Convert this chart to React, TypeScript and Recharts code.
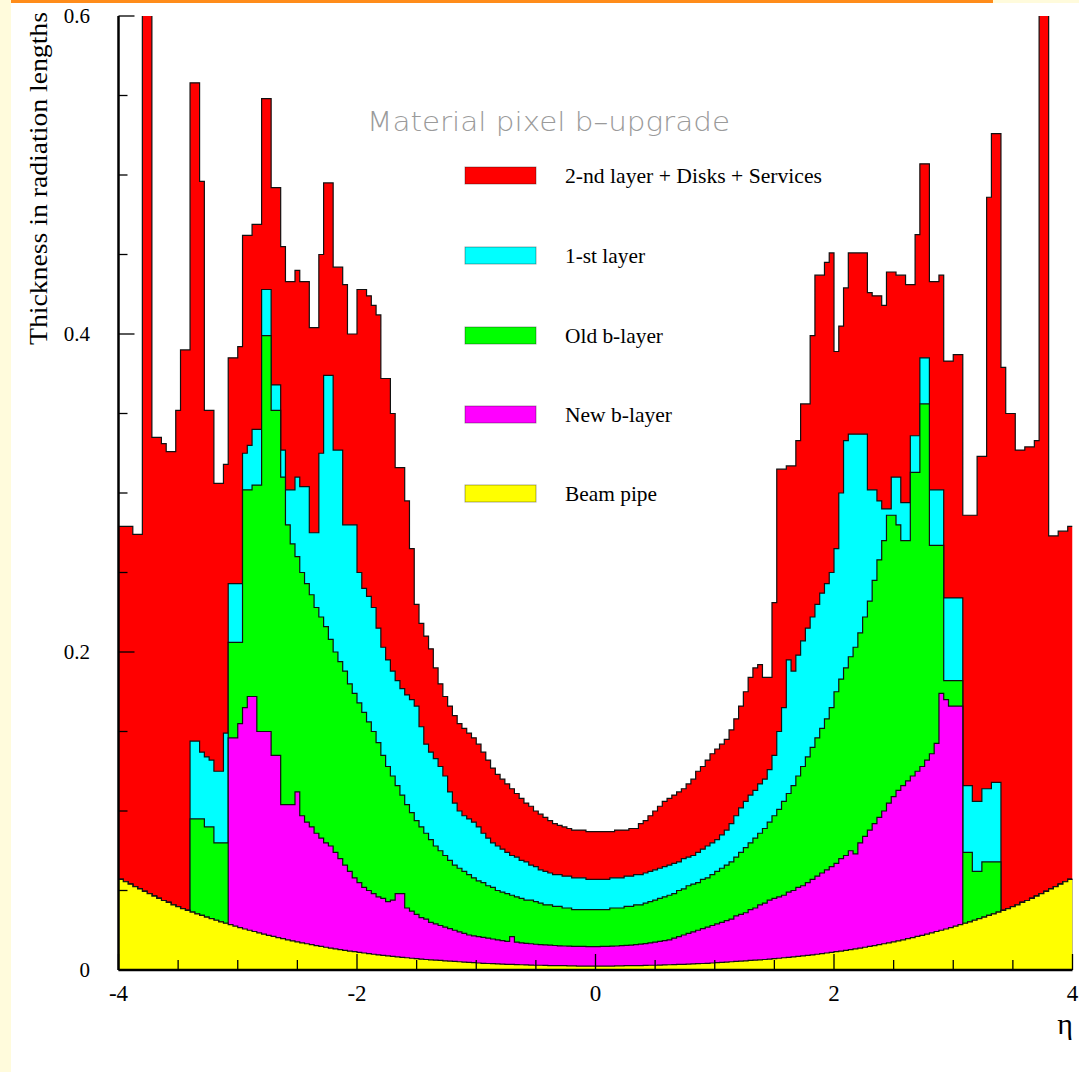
import React from 'react';
import { ComposedChart, Area, XAxis, YAxis, Legend } from 'recharts';

// ---- histogram binning (200 bins of 0.04 in eta) ----
const ETA_MIN = -4;
const ETA_MAX = 4;
const BIN_WIDTH = 0.04;

// ---- axis ticks ----
const xTicks = [-4, -3.5, -3, -2.5, -2, -1.5, -1, -0.5, 0, 0.5, 1, 1.5, 2, 2.5, 3, 3.5, 4];
const xTickLabels: Record<string, string> = { '-4': '-4', '-2': '-2', '0': '0', '2': '2', '4': '4' };
const yTicks = [0, 0.05, 0.1, 0.15, 0.2, 0.25, 0.3, 0.35, 0.4, 0.45, 0.5, 0.55, 0.6];
const yTickLabels: Record<string, string> = { '0': '0', '0.2': '0.2', '0.4': '0.4', '0.6': '0.6' };

// ---- series (cumulative thickness, X0; null = layer absent in that bin) ----
const beamPipe = [
  0.057, 0.0555, 0.054, 0.0525, 0.051, 0.0495, 0.048, 0.0465, 0.045, 0.0437,
  0.0425, 0.041, 0.0398, 0.0386, 0.0375, 0.0364, 0.0353, 0.0343, 0.0333, 0.0323,
  0.0313, 0.0303, 0.0294, 0.0285, 0.0276, 0.0267, 0.0258, 0.025, 0.0242, 0.0234,
  0.0226, 0.0218, 0.0211, 0.0204, 0.0197, 0.019, 0.0183, 0.0177, 0.0171, 0.0165,
  0.0159, 0.0153, 0.0148, 0.0143, 0.0138, 0.0133, 0.0128, 0.0123, 0.0119, 0.0115,
  0.0111, 0.0107, 0.0103, 0.0099, 0.0095, 0.0092, 0.0089, 0.0086, 0.0083, 0.008,
  0.0077, 0.0074, 0.0071, 0.0068, 0.0066, 0.0064, 0.0062, 0.006, 0.0058, 0.0056,
  0.0054, 0.0052, 0.005, 0.0048, 0.0046, 0.0044, 0.0042, 0.0041, 0.004, 0.0038,
  0.0037, 0.0036, 0.0035, 0.0034, 0.0033, 0.0032, 0.0031, 0.003, 0.003, 0.0029,
  0.0028, 0.0028, 0.0027, 0.0027, 0.0026, 0.0026, 0.0025, 0.0025, 0.0025, 0.0025,
  0.0025, 0.0025, 0.0025, 0.0025, 0.0026, 0.0026, 0.0027, 0.0027, 0.0028, 0.0028,
  0.0029, 0.003, 0.003, 0.0031, 0.0032, 0.0033, 0.0034, 0.0035, 0.0036, 0.0037,
  0.0038, 0.004, 0.0041, 0.0042, 0.0044, 0.0046, 0.0048, 0.005, 0.0052, 0.0054,
  0.0056, 0.0058, 0.006, 0.0062, 0.0064, 0.0066, 0.0068, 0.0071, 0.0074, 0.0077,
  0.008, 0.0083, 0.0086, 0.0089, 0.0092, 0.0095, 0.0099, 0.0103, 0.0107, 0.0111,
  0.0115, 0.0119, 0.0123, 0.0128, 0.0133, 0.0138, 0.0143, 0.0148, 0.0153, 0.0159,
  0.0165, 0.0171, 0.0177, 0.0183, 0.019, 0.0197, 0.0204, 0.0211, 0.0218, 0.0226,
  0.0234, 0.0242, 0.025, 0.0258, 0.0267, 0.0276, 0.0285, 0.0294, 0.0303, 0.0313,
  0.0323, 0.0333, 0.0343, 0.0353, 0.0364, 0.0375, 0.0386, 0.0398, 0.041, 0.0425,
  0.0437, 0.045, 0.0465, 0.048, 0.0495, 0.051, 0.0525, 0.054, 0.0555, 0.057,
];

const newBLayer: (number | null)[] = [
  null, null, null, null, null, null, null, null, null, null,
  null, null, null, null, null, null, null, null, null, null,
  null, null, null, 0.146, 0.146, 0.155, 0.165, 0.172, 0.172, 0.15,
  0.15, 0.15, 0.135, 0.135, 0.104, 0.104, 0.104, 0.112, 0.097, 0.093,
  0.09, 0.086, 0.083, 0.08, 0.078, 0.074, 0.07, 0.066, 0.062, 0.058,
  0.055, 0.052, 0.05, 0.048, 0.046, 0.045, 0.043, 0.044, 0.048, 0.048,
  0.039, 0.037, 0.035, 0.033, 0.032, 0.03, 0.029, 0.028, 0.027, 0.026,
  0.025, 0.024, 0.023, 0.022, 0.0215, 0.021, 0.0205, 0.02, 0.0195, 0.019,
  0.0185, 0.018, 0.021, 0.0175, 0.017, 0.0168, 0.0165, 0.0162, 0.016, 0.0158,
  0.0156, 0.0154, 0.0152, 0.0151, 0.015, 0.0149, 0.0148, 0.0148, 0.0147, 0.0147,
  0.0147, 0.0148, 0.0149, 0.015, 0.0151, 0.0153, 0.0155, 0.0157, 0.016, 0.0163,
  0.0166, 0.017, 0.0175, 0.018, 0.0185, 0.019, 0.02, 0.021, 0.022, 0.023,
  0.024, 0.025, 0.026, 0.027, 0.028, 0.029, 0.03, 0.031, 0.032, 0.034,
  0.035, 0.036, 0.038, 0.039, 0.041, 0.042, 0.044, 0.045, 0.046, 0.047,
  0.049, 0.05, 0.052, 0.053, 0.055, 0.057, 0.059, 0.061, 0.063, 0.065,
  0.067, 0.07, 0.072, 0.075, 0.073, 0.08, 0.084, 0.088, 0.092, 0.096,
  0.1, 0.105, 0.109, 0.113, 0.116, 0.119, 0.122, 0.125, 0.128, 0.132,
  0.136, 0.1425, 0.174, 0.17, 0.166, 0.166, 0.166, null, null, null,
  null, null, null, null, null, null, null, null, null, null,
  null, null, null, null, null, null, null, null, null, null,
];

const oldBLayer: (number | null)[] = [
  null, null, null, null, null, null, null, null, null, null,
  null, null, null, null, null, 0.095, 0.095, 0.095, 0.09, 0.09,
  0.08, 0.08, 0.08, 0.206, 0.206, 0.206, 0.302, 0.302, 0.305, 0.305,
  0.399, 0.399, 0.352, 0.352, 0.31, 0.28, 0.268, 0.26, 0.25, 0.243,
  0.236, 0.228, 0.222, 0.216, 0.208, 0.2, 0.194, 0.188, 0.18, 0.174,
  0.168, 0.162, 0.156, 0.15, 0.143, 0.135, 0.128, 0.122, 0.116, 0.11,
  0.104, 0.099, 0.094, 0.09, 0.086, 0.082, 0.078, 0.075, 0.072, 0.069,
  0.066, 0.064, 0.062, 0.06, 0.058, 0.056, 0.055, 0.053, 0.052, 0.05,
  0.049, 0.048, 0.047, 0.046, 0.045, 0.044, 0.044, 0.043, 0.042, 0.041,
  0.041, 0.04, 0.04, 0.039, 0.039, 0.038, 0.038, 0.038, 0.038, 0.038,
  0.038, 0.038, 0.038, 0.039, 0.039, 0.039, 0.04, 0.04, 0.041, 0.041,
  0.042, 0.043, 0.044, 0.045, 0.046, 0.047, 0.048, 0.05, 0.051, 0.053,
  0.054, 0.055, 0.057, 0.058, 0.06, 0.062, 0.064, 0.066, 0.068, 0.071,
  0.074, 0.077, 0.08, 0.083, 0.086, 0.089, 0.093, 0.097, 0.101, 0.106,
  0.111, 0.116, 0.122, 0.128, 0.134, 0.14, 0.146, 0.152, 0.158, 0.165,
  0.175, 0.183, 0.19, 0.197, 0.203, 0.212, 0.222, 0.232, 0.245, 0.258,
  0.27, 0.286, 0.286, 0.28, 0.27, 0.27, 0.313, 0.313, 0.356, 0.356,
  0.267, 0.267, 0.267, 0.182, 0.182, 0.182, 0.182, 0.074, 0.074, 0.062,
  0.062, 0.068, 0.068, 0.068, 0.068, null, null, null, null, null,
  null, null, null, null, null, null, null, null, null, null,
];

const firstLayer: (number | null)[] = [
  null, null, null, null, null, null, null, null, null, null,
  null, null, null, null, null, 0.144, 0.144, 0.137, 0.134, 0.132,
  0.125, 0.125, 0.149, 0.243, 0.243, 0.243, 0.325, 0.33, 0.34, 0.34,
  0.428, 0.428, 0.368, 0.368, 0.327, 0.302, 0.302, 0.31, 0.304, 0.304,
  0.275, 0.275, 0.325, 0.374, 0.374, 0.327, 0.327, 0.28, 0.28, 0.28,
  0.25, 0.24, 0.235, 0.228, 0.215, 0.203, 0.195, 0.188, 0.182, 0.177,
  0.173, 0.17, 0.166, 0.153, 0.142, 0.137, 0.133, 0.128, 0.122, 0.112,
  0.105, 0.1, 0.097, 0.095, 0.093, 0.09, 0.086, 0.083, 0.08, 0.078,
  0.076, 0.074, 0.072, 0.071, 0.069, 0.068, 0.066, 0.065, 0.063, 0.062,
  0.061, 0.06, 0.06, 0.059, 0.059, 0.058, 0.058, 0.058, 0.057, 0.057,
  0.057, 0.057, 0.057, 0.058, 0.058, 0.058, 0.059, 0.059, 0.06, 0.06,
  0.061, 0.062, 0.063, 0.064, 0.065, 0.066, 0.067, 0.068, 0.07, 0.071,
  0.072, 0.074, 0.076, 0.078, 0.08, 0.082, 0.085, 0.088, 0.092, 0.097,
  0.102, 0.106, 0.11, 0.113, 0.117, 0.12, 0.126, 0.135, 0.15, 0.165,
  0.195, 0.188, 0.198, 0.207, 0.215, 0.222, 0.23, 0.237, 0.243, 0.25,
  0.265, 0.3, 0.333, 0.337, 0.337, 0.337, 0.337, 0.302, 0.302, 0.295,
  0.29, 0.29, 0.31, 0.31, 0.294, 0.294, 0.336, 0.336, 0.385, 0.385,
  0.302, 0.302, 0.302, 0.234, 0.234, 0.234, 0.234, 0.116, 0.116, 0.106,
  0.106, 0.114, 0.114, 0.118, 0.118, null, null, null, null, null,
  null, null, null, null, null, null, null, null, null, null,
];

const secondLayerDisksServices = [
  0.279, 0.279, 0.279, 0.274, 0.274, 0.65, 0.65, 0.335, 0.335, 0.331,
  0.326, 0.326, 0.352, 0.39, 0.39, 0.558, 0.558, 0.496, 0.352, 0.352,
  0.306, 0.306, 0.318, 0.385, 0.385, 0.392, 0.462, 0.462, 0.469, 0.469,
  0.548, 0.548, 0.492, 0.492, 0.455, 0.433, 0.433, 0.44, 0.433, 0.433,
  0.404, 0.404, 0.45, 0.495, 0.495, 0.442, 0.442, 0.431, 0.4, 0.4,
  0.428, 0.428, 0.424, 0.418, 0.412, 0.372, 0.372, 0.35, 0.316, 0.316,
  0.295, 0.265, 0.23, 0.218, 0.21, 0.202, 0.19, 0.18, 0.172, 0.166,
  0.16, 0.155, 0.152, 0.149, 0.146, 0.142, 0.137, 0.132, 0.127, 0.123,
  0.12, 0.117, 0.114, 0.111, 0.108, 0.105, 0.103, 0.1, 0.098, 0.096,
  0.094, 0.092, 0.091, 0.09, 0.089, 0.088, 0.088, 0.088, 0.087, 0.087,
  0.087, 0.087, 0.087, 0.087, 0.088, 0.088, 0.088, 0.089, 0.089, 0.092,
  0.094, 0.097, 0.1, 0.103, 0.106, 0.108, 0.11, 0.112, 0.114, 0.117,
  0.12, 0.125, 0.128, 0.132, 0.136, 0.139, 0.142, 0.145, 0.151, 0.158,
  0.166, 0.175, 0.184, 0.19, 0.192, 0.184, 0.184, 0.231, 0.315, 0.315,
  0.317, 0.317, 0.333, 0.356, 0.356, 0.399, 0.437, 0.437, 0.445, 0.451,
  0.389, 0.405, 0.429, 0.451, 0.451, 0.451, 0.451, 0.426, 0.424, 0.424,
  0.418, 0.439, 0.439, 0.437, 0.437, 0.431, 0.431, 0.4625, 0.507, 0.507,
  0.433, 0.433, 0.437, 0.383, 0.383, 0.387, 0.387, 0.286, 0.286, 0.286,
  0.323, 0.323, 0.486, 0.526, 0.526, 0.379, 0.35, 0.35, 0.327, 0.327,
  0.329, 0.329, 0.333, 0.65, 0.65, 0.273, 0.273, 0.276, 0.276, 0.279,
];

const legendLabels = [
  '2-nd layer + Disks + Services',
  '1-st layer',
  'Old b-layer',
  'New b-layer',
  'Beam pipe',
];
const legendTextWidths = [257, 80, 98, 107, 92];
const layerColors = ['#ff0000', '#00ffff', '#00ff00', '#ff00ff', '#ffff00'];
const layerKeys = ['second', 'first', 'oldb', 'newb', 'beam'];

// ---- table for recharts (bin left edges; last row closes the final bin) ----
const nBins = beamPipe.length;
const rows: any[] = [];
for (let i = 0; i <= nBins; i++) {
  const k = Math.min(i, nBins - 1);
  const beam = beamPipe[k];
  const newb = newBLayer[k] ?? beam;
  const oldb = oldBLayer[k] ?? newb;
  const first = firstLayer[k] ?? oldb;
  const second = secondLayerDisksServices[k] ?? first;
  rows.push({ eta: Number((ETA_MIN + i * BIN_WIDTH).toFixed(2)), beam, newb, oldb, first, second });
}

const SERIF = "'Liberation Serif', 'DejaVu Serif', serif";

function XTick(props: any) {
  const { x, y, payload } = props;
  const label = xTickLabels[String(payload.value)];
  const len = label !== undefined ? 16 : 10;
  return (
    <g>
      <line x1={x} y1={y} x2={x} y2={y - len} stroke="#000" strokeWidth={1.3} />
      {label !== undefined && (
        <text x={x} y={y + 31} textAnchor="middle" fontFamily={SERIF} fontSize={23} fill="#000">
          {label}
        </text>
      )}
    </g>
  );
}

function YTick(props: any) {
  const { x, y, payload } = props;
  const label = yTickLabels[String(payload.value)];
  const len = label !== undefined ? 16 : 9;
  return (
    <g>
      <line x1={x} y1={y} x2={x + len} y2={y} stroke="#000" strokeWidth={1.3} />
      {label !== undefined && (
        <text x={x - 28.5} y={y + 7} textAnchor="end" fontFamily={SERIF} fontSize={21} fill="#000">
          {label}
        </text>
      )}
    </g>
  );
}

function LegendBox() {
  const rowY = [26, 106, 186, 265, 344];
  return (
    <svg width={430} height={370} style={{ display: 'block' }}>
      {legendLabels.map((lab, i) => (
        <g key={lab}>
          <rect x={10} y={rowY[i] - 9} width={71} height={17} fill={layerColors[i]} stroke="#000" strokeOpacity={0.35} strokeWidth={1} />
          <text x={110} y={rowY[i] + 7} fontFamily={SERIF} fontSize={21} fill="#000" textLength={legendTextWidths[i]} lengthAdjust="spacingAndGlyphs">
            {lab}
          </text>
        </g>
      ))}
    </svg>
  );
}

export default function App() {
  return (
    <div style={{ position: 'absolute', left: 0, top: 0, width: 1079, height: 1072, background: '#ffffff', overflow: 'hidden' }}>
      <div style={{ position: 'absolute', left: 0, top: 0, width: 11, height: 1072, background: '#fffbdc' }} />
      <div style={{ position: 'absolute', left: 11, top: 0, width: 982, height: 3, background: '#ff8c1a' }} />
      <div style={{ position: 'absolute', left: 993, top: 0, width: 86, height: 3, background: '#fffbdc' }} />
      <div style={{ position: 'absolute', left: 0, top: 0 }}>
        <ComposedChart width={1079} height={1072} data={rows} margin={{ top: 16, right: 6.5, bottom: 0, left: 0 }}>
          {layerKeys.map((key, i) => (
            <Area
              key={key}
              dataKey={key}
              name={legendLabels[i]}
              type="stepAfter"
              fill={layerColors[i]}
              fillOpacity={1}
              stroke="#111"
              strokeWidth={1.2}
              dot={false}
              activeDot={false}
              isAnimationActive={false}
            />
          ))}
          <XAxis
            dataKey="eta"
            type="number"
            domain={[ETA_MIN, ETA_MAX]}
            ticks={xTicks}
            interval={0}
            height={102}
            tickSize={0}
            tickMargin={0}
            tickLine={false}
            tick={<XTick />}
            axisLine={{ stroke: '#000', strokeWidth: 2.5 }}
            allowDataOverflow
          />
          <XAxis
            xAxisId="top"
            orientation="top"
            type="number"
            domain={[ETA_MIN, ETA_MAX]}
            height={0}
            tick={false}
            tickLine={false}
            axisLine={{ stroke: '#555', strokeWidth: 2 }}
          />
          <YAxis
            type="number"
            domain={[0, 0.6]}
            ticks={yTicks}
            interval={0}
            width={118.5}
            tickSize={0}
            tickMargin={0}
            tickLine={false}
            tick={<YTick />}
            axisLine={{ stroke: '#000', strokeWidth: 2.5 }}
            allowDataOverflow
          />
          <YAxis
            yAxisId="right"
            orientation="right"
            type="number"
            domain={[0, 0.6]}
            width={0}
            tick={false}
            tickLine={false}
            axisLine={{ stroke: '#555', strokeWidth: 2 }}
          />
          <Legend
            layout="vertical"
            align="center"
            verticalAlign="middle"
            wrapperStyle={{ position: 'absolute', left: 455, top: 150, width: 430, height: 370 }}
            content={() => <LegendBox />}
          />
        </ComposedChart>
      </div>
      <svg width={1079} height={1072} style={{ position: 'absolute', left: 0, top: 0, pointerEvents: 'none' }}>
        <text x={367} y={131} fontFamily="'DejaVu Sans', sans-serif" fontWeight={200} fontSize={26} fill="#9a9a9a" textLength={363} lengthAdjust="spacingAndGlyphs">
          Material pixel b–upgrade
        </text>
        <text
          x={47}
          y={345}
          transform="rotate(-90 47 345)"
          fontFamily={SERIF}
          fontSize={26}
          fill="#000"
          textLength={333}
          lengthAdjust="spacingAndGlyphs"
        >
          Thickness in radiation lengths
        </text>
        <text x={1073} y={1034} textAnchor="end" fontFamily={SERIF} fontSize={30} fill="#000">
          η
        </text>
      </svg>
    </div>
  );
}
